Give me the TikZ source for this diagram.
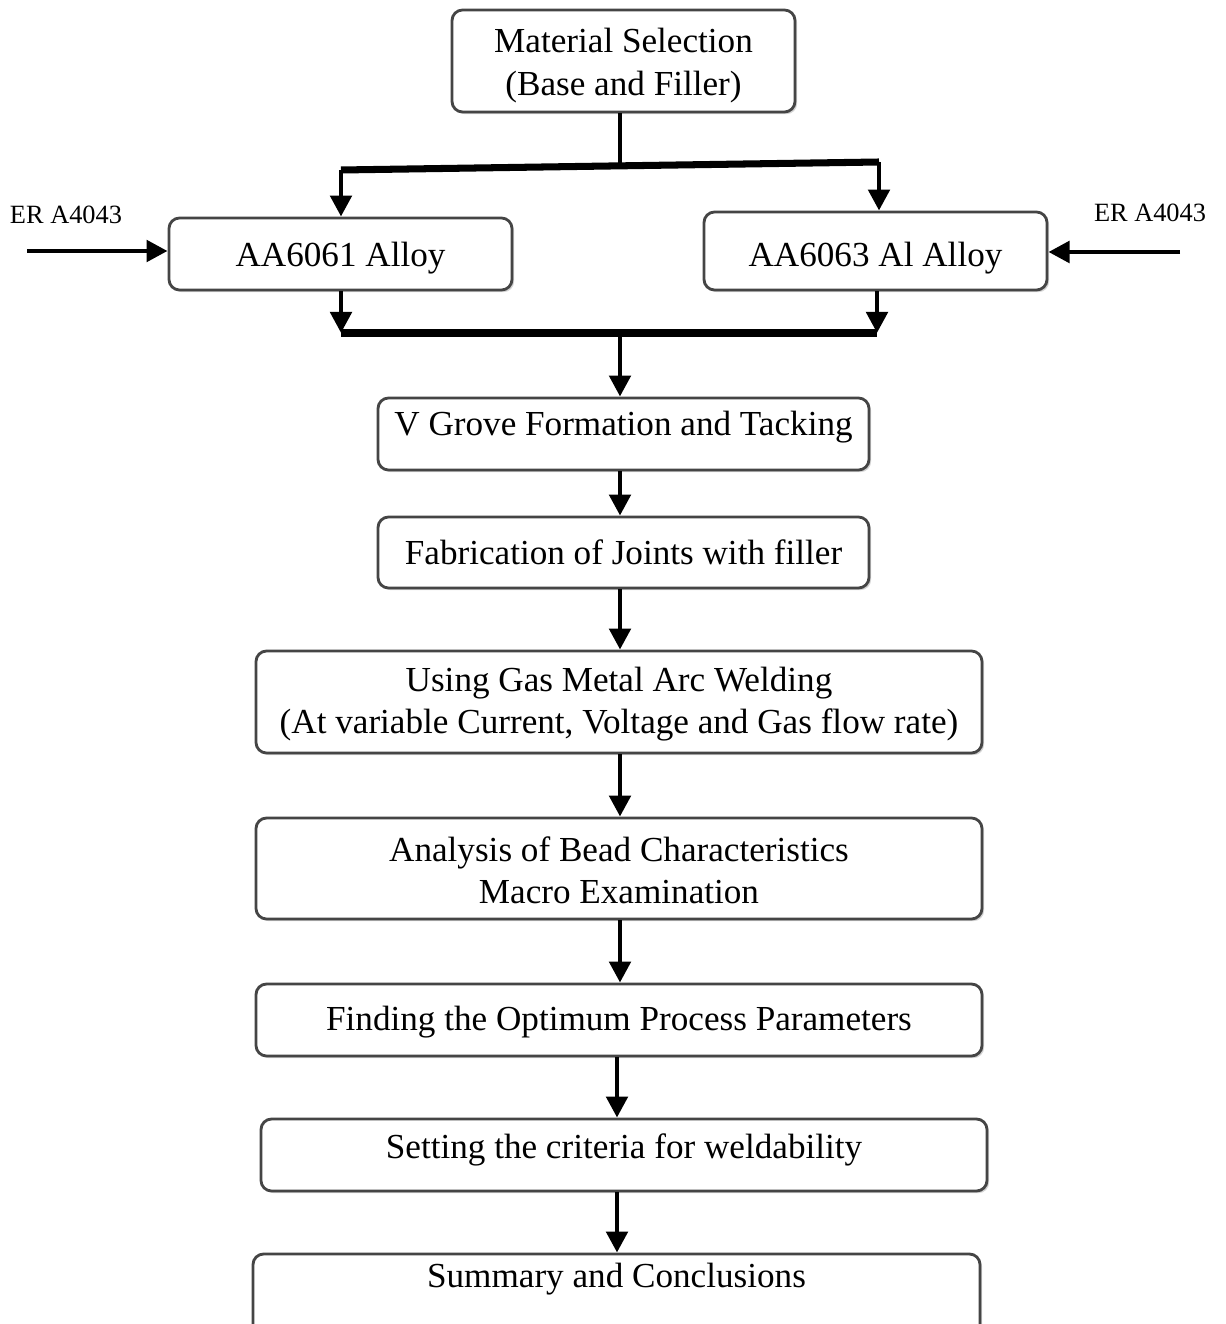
\documentclass[tikz,border=0pt]{standalone}
\usepackage{fontspec}
\setmainfont{Liberation Serif}
\usepackage{tikz}
\usetikzlibrary{positioning,arrows.meta,shadows}
\usepackage{xcolor}
\definecolor{boxline}{HTML}{454545}

\tikzset{
  stage/.style={draw=boxline,line width=1.6pt,rounded corners=6pt,fill=white,align=center,
    font=\fontsize{20}{24}\selectfont,inner sep=2pt,
    drop shadow={shadow xshift=1.2pt,shadow yshift=-1.2pt,opacity=0.35,fill=gray}},
  flow/.style={-{Triangle[length=12pt,width=12pt]},line width=2.8pt},
  bar/.style={line width=4pt},
  filler/.style={font=\fontsize{15}{18}\selectfont}
}

\begin{document}
\begin{tikzpicture}
\useasboundingbox (0,0) rectangle (24.5,-26.48);
\node[stage,minimum width=6.86cm,minimum height=2.04cm,text height=43pt] (mat) at (12.47,-1.22) {Material Selection\\(Base and Filler)};
\node[stage,minimum width=6.86cm,minimum height=1.44cm,text height=17pt,text depth=3pt] (a61) at (6.81,-5.08) {AA6061 Alloy};
\node[stage,minimum width=6.86cm,minimum height=1.56cm,text height=21pt,text depth=3.5pt] (a63) at (17.51,-5.02) {AA6063 Al Alloy};
\node[stage,minimum width=9.82cm,minimum height=1.44cm,text height=14pt,text depth=12pt] (grove) at (12.47,-8.68) {V Grove Formation and Tacking};
\node[stage,minimum width=9.82cm,minimum height=1.42cm] (fab) at (12.47,-11.05) {Fabrication of Joints with filler};
\node[stage,minimum width=14.52cm,minimum height=2.04cm,text height=40pt] (gmaw) at (12.38,-14.04) {Using Gas Metal Arc Welding\\(At variable Current, Voltage and Gas flow rate)};
\node[stage,minimum width=14.52cm,minimum height=2.02cm,text height=40.5pt] (bead) at (12.38,-17.37) {Analysis of Bead Characteristics\\Macro Examination};
\node[stage,minimum width=14.52cm,minimum height=1.44cm,text height=16pt,text depth=4pt] (optim) at (12.38,-20.40) {Finding the Optimum Process Parameters};
\node[stage,minimum width=14.52cm,minimum height=1.44cm,text height=14pt,text depth=10pt] (crit) at (12.48,-23.10) {Setting the criteria for weldability};
\node[stage,minimum width=14.54cm,minimum height=2.04cm,text height=14pt,text depth=34pt] (summ) at (12.33,-26.10) {Summary and Conclusions};
\node[filler] (erL) at (1.32,-4.30) {ER A4043};
\node[filler] (erR) at (23.0,-4.26) {ER A4043};
% split and merge
\coordinate (split) at (12.4,-3.30);
\coordinate (barL) at (6.82,-3.40);
\coordinate (barR) at (17.58,-3.24);
\coordinate (mergeL) at (6.82,-6.66);
\coordinate (mergeR) at (17.54,-6.66);
\coordinate (merge) at (12.4,-6.66);
\coordinate (low) at (12.34,-21.5);
\coordinate (inL) at (0.54,-5.02);
\coordinate (inR) at (23.6,-5.04);
\draw[line width=2.8pt] (mat.south -| split) -- (split);
\draw[bar] (barL) -- (barR);
\draw[flow] (barL) -- (barL |- a61.north);
\draw[flow] (barR) -- (barR |- a63.north);
\draw[flow] (inL) -- (inL -| a61.west);
\draw[flow] (inR) -- (inR -| a63.east);
\draw[flow] (a61.south -| mergeL) -- (mergeL);
\draw[flow] (a63.south -| mergeR) -- (mergeR);
\draw[bar] (mergeL) -- (mergeR);
\draw[flow] (merge) -- (merge |- grove.north);
% chain
\draw[flow] (grove.south -| merge) -- (merge |- fab.north);
\draw[flow] (fab.south -| merge) -- (merge |- gmaw.north);
\draw[flow] (gmaw.south -| merge) -- (merge |- bead.north);
\draw[flow] (bead.south -| merge) -- (merge |- optim.north);
\draw[flow] (optim.south -| low) -- (low |- crit.north);
\draw[flow] (crit.south -| low) -- (low |- summ.north);
\end{tikzpicture}
\end{document}
